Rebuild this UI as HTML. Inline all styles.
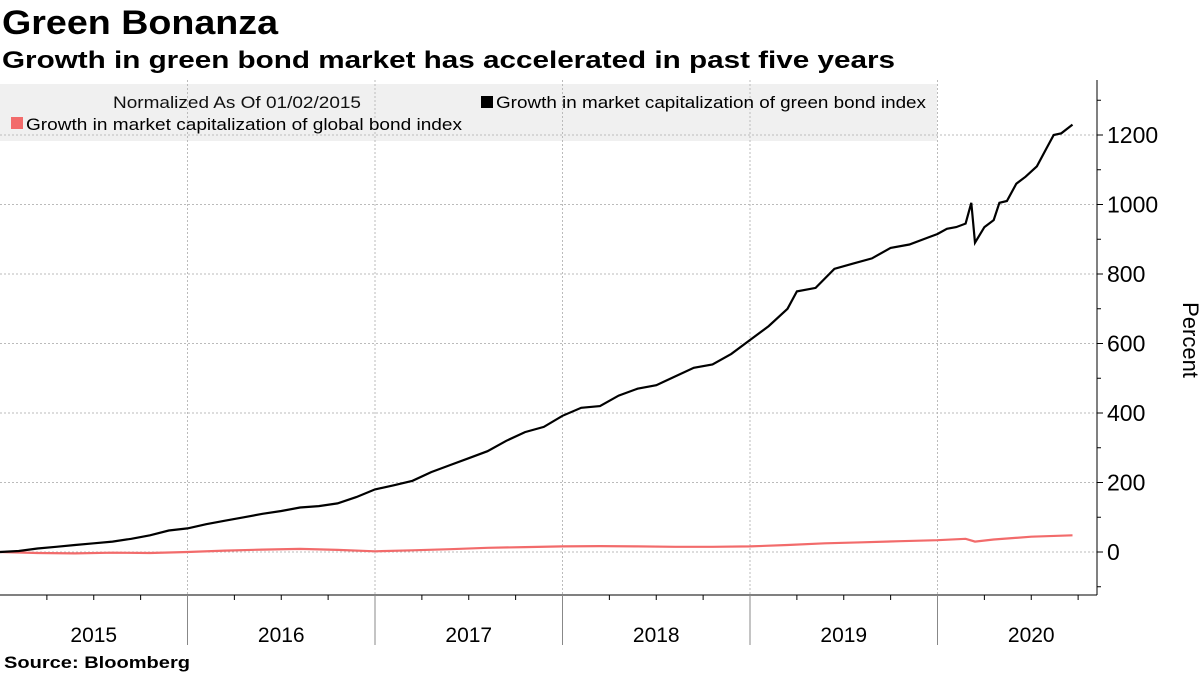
<!DOCTYPE html>
<html><head><meta charset="utf-8"><style>
html,body{margin:0;padding:0;background:#fff;}
svg{display:block;font-family:"Liberation Sans",sans-serif;}
</style></head><body>
<svg id="chart" width="1200" height="675">
<text x="2" y="34" font-size="34" font-weight="bold" textLength="276" lengthAdjust="spacingAndGlyphs">Green Bonanza</text>
<text x="2" y="68" font-size="24" font-weight="bold" textLength="893" lengthAdjust="spacingAndGlyphs">Growth in green bond market has accelerated in past five years</text>
<rect x="0" y="84" width="937" height="57" fill="#f0f0f0"/>
<g id="grid"></g>
<text x="113" y="108" font-size="17" fill="#111" textLength="248" lengthAdjust="spacingAndGlyphs">Normalized As Of 01/02/2015</text>
<g><rect x="481" y="96" width="12" height="12" fill="#000"/><text x="496" y="108" font-size="17" textLength="430" lengthAdjust="spacingAndGlyphs">Growth in market capitalization of green bond index</text></g>
<g><rect x="11" y="117" width="12" height="12" fill="#f26b6b"/><text x="26" y="130" font-size="17" textLength="436" lengthAdjust="spacingAndGlyphs">Growth in market capitalization of global bond index</text></g>
<g id="axes"></g>
<g id="series"></g>
<text x="0" y="0" font-size="22" transform="translate(1183,340) rotate(90)" text-anchor="middle">Percent</text>
<text x="4" y="668" font-size="17" font-weight="bold" textLength="186" lengthAdjust="spacingAndGlyphs">Source: Bloomberg</text>
</svg>
<script>
const greenT = [2015.0,2015.1,2015.2,2015.3,2015.4,2015.5,2015.6,2015.7,2015.8,2015.9,2016.0,2016.1,2016.2,2016.3,2016.4,2016.5,2016.6,2016.7,2016.8,2016.9,2017.0,2017.1,2017.2,2017.3,2017.4,2017.5,2017.6,2017.7,2017.8,2017.9,2018.0,2018.1,2018.2,2018.3,2018.4,2018.5,2018.6,2018.7,2018.8,2018.9,2019.0,2019.1,2019.2,2019.25,2019.35,2019.45,2019.55,2019.65,2019.75,2019.85,2019.95,2020.0,2020.05,2020.1,2020.15,2020.18,2020.2,2020.25,2020.3,2020.33,2020.37,2020.42,2020.47,2020.53,2020.58,2020.62,2020.66,2020.72];
const greenV = [0,3,10,15,20,25,30,38,48,62,68,80,90,100,110,118,128,132,140,158,180,192,205,230,250,270,290,320,345,360,392,415,420,450,470,480,505,530,540,570,610,650,700,750,760,815,830,845,875,885,905,915,930,935,945,1005,890,935,955,1005,1010,1060,1080,1110,1160,1200,1205,1230];
const globalT = [2015.0,2015.2,2015.4,2015.6,2015.8,2016.0,2016.2,2016.4,2016.6,2016.8,2017.0,2017.2,2017.4,2017.6,2017.8,2018.0,2018.2,2018.4,2018.6,2018.8,2019.0,2019.2,2019.4,2019.6,2019.8,2020.0,2020.15,2020.2,2020.3,2020.5,2020.72];
const globalV = [0,-3,-4,-2,-3,0,4,7,9,6,2,5,8,12,14,16,17,16,15,15,16,20,25,28,31,34,38,30,36,44,48];
const yTicks = [0,200,400,600,800,1000,1200];
const yearLabels = ["2015","2016","2017","2018","2019","2020"];

const NS="http://www.w3.org/2000/svg";
const X0=0, YW=187.5, Y0=552, YS=0.3475, AX=595, RX=1097;
const xs=t=>X0+(t-2015)*YW, ys=v=>Y0-v*YS;
function mk(tag,attrs,parent){const e=document.createElementNS(NS,tag);for(const k in attrs)e.setAttribute(k,attrs[k]);parent.appendChild(e);return e;}
const grid=document.getElementById('grid'), axes=document.getElementById('axes'), series=document.getElementById('series');
yTicks.forEach(v=>{
  const g=mk('line',{x1:0,x2:RX,y1:ys(v),y2:ys(v),stroke:'#bbb','stroke-dasharray':'2,2'},grid);
  
  
  const t=mk('line',{x1:RX,x2:RX+6,y1:ys(v),y2:ys(v),stroke:'#000'},axes);
  
  
  const l=mk('text',{x:RX+10,y:ys(v)+8,'font-size':23},axes);l.textContent=v;
  
  
});
for(let v=-100;v<=1300;v+=200){const m=mk('line',{x1:RX,x2:RX+4,y1:ys(v),y2:ys(v),stroke:'#000'},axes);
  
  }
mk('line',{x1:RX,x2:RX,y1:80,y2:AX,stroke:'#000'},axes);
mk('line',{x1:0,x2:RX,y1:AX,y2:AX,stroke:'#000'},axes);
yearLabels.forEach((y,i)=>{
  const t0=2015+i;
  if(i>0){
    const g=mk('line',{x1:xs(t0),x2:xs(t0),y1:80,y2:AX,stroke:'#bbb','stroke-dasharray':'2,2'},grid);
    
    
    const s=mk('line',{x1:xs(t0),x2:xs(t0),y1:AX,y2:645,stroke:'#888'},axes);
    
    
  }
  for(let q=1;q<4;q++){const m=mk('line',{x1:xs(t0+q/4),x2:xs(t0+q/4),y1:AX,y2:AX+5,stroke:'#000'},axes);
    
    }
  const l=mk('text',{x:xs(t0+0.5),y:642,'font-size':21,'text-anchor':'middle'},axes);l.textContent=y;
  
  
});
const p1=mk('path',{d:globalT.map((t,i)=>(i?'L':'M')+xs(t).toFixed(1)+','+ys(globalV[i]).toFixed(1)).join(''),fill:'none',stroke:'#f26b6b','stroke-width':2.2},series);


const p2=mk('path',{d:greenT.map((t,i)=>(i?'L':'M')+xs(t).toFixed(1)+','+ys(greenV[i]).toFixed(1)).join(''),fill:'none',stroke:'#000','stroke-width':2.2},series);


</script>
</body></html>
